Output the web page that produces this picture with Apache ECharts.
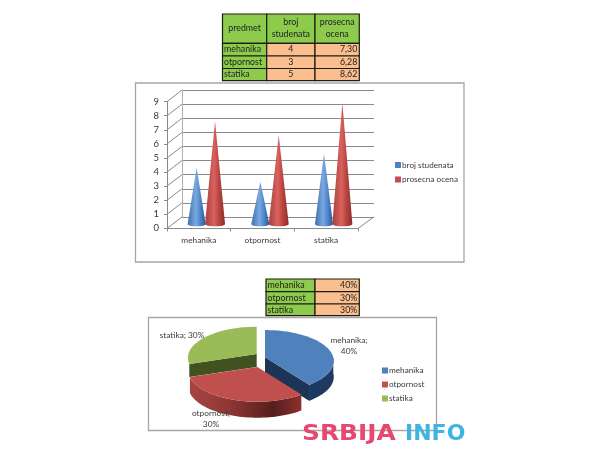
<!DOCTYPE html>
<html>
<head>
<meta charset="utf-8">
<style>html,body{margin:0;padding:0;background:#fff}#c{width:600px;height:450px}</style>
<script src="https://cdn.jsdelivr.net/npm/echarts@6/dist/echarts.min.js"></script>
</head>
<body>
<div id="c"></div>
<script>
const subjects = ['mehanika', 'otpornost', 'statika'];
const studentCounts = [4, 3, 5];
const averageGrades = [7.30, 6.28, 8.62];
const averageGradeLabels = ['7,30', '6,28', '8,62'];
const sharePercent = [40, 30, 30];
const yTicks = [0, 1, 2, 3, 4, 5, 6, 7, 8, 9];
const tableHeader = ['predmet', 'broj\nstudenata', 'prosecna\nocena'];

const font = 'Lato';
const textColor = '#3a3a3a';
const G = echarts.graphic;
const chart = echarts.init(document.getElementById('c'), null, {renderer: 'canvas'});

/* ---- tables ---- */
const tableGreen = '#8ccb4c', tableOrange = '#fbbf8f';
function cell(x0, y0, x1, y1, fill) {
  return {type: 'rect', z: 5, shape: {x: x0, y: y0, width: x1 - x0, height: y1 - y0},
    style: {fill: fill, stroke: '#1c1c10', lineWidth: 1.2}};
}
function cellText(x, y, text, align, size) {
  return {type: 'text', z: 6, style: {x: x, y: y, text: text, align: align, verticalAlign: 'middle',
    font: (size || 8.8) + 'px "' + font + '"', fill: '#222', lineHeight: 12}};
}
const gfx = [];
gfx.push({type: 'rect', z: -1, shape: {x: 135.5, y: 83, width: 328.5, height: 179}, style: {fill: '#fff', stroke: '#a6a6a6', lineWidth: 1.3}});
gfx.push({type: 'rect', z: -1, shape: {x: 148.5, y: 317.5, width: 288, height: 113}, style: {fill: '#fff', stroke: '#a6a6a6', lineWidth: 1.3}});

const tx = [222.5, 266.7, 315, 359.3], ty = [14, 43.3, 56, 68.5, 80.7];
tableHeader.forEach((h, c) => {
  gfx.push(cell(tx[c], ty[0], tx[c + 1], ty[1], tableGreen));
  gfx.push(cellText((tx[c] + tx[c + 1]) / 2, (ty[0] + ty[1]) / 2, h, 'center'));
});
subjects.forEach((s, r) => {
  gfx.push(cell(tx[0], ty[r + 1], tx[1], ty[r + 2], tableGreen));
  gfx.push(cellText(tx[0] + 1.5, (ty[r + 1] + ty[r + 2]) / 2, s, 'left'));
  gfx.push(cell(tx[1], ty[r + 1], tx[2], ty[r + 2], tableOrange));
  gfx.push(cellText((tx[1] + tx[2]) / 2, (ty[r + 1] + ty[r + 2]) / 2, String(studentCounts[r]), 'center'));
  gfx.push(cell(tx[2], ty[r + 1], tx[3], ty[r + 2], tableOrange));
  gfx.push(cellText(tx[3] - 2, (ty[r + 1] + ty[r + 2]) / 2, averageGradeLabels[r], 'right'));
});
const px = [266, 315, 359.3], py = [279, 291.7, 304, 315.7];
subjects.forEach((s, r) => {
  gfx.push(cell(px[0], py[r], px[1], py[r + 1], tableGreen));
  gfx.push(cellText(px[0] + 1.5, (py[r] + py[r + 1]) / 2, s, 'left'));
  gfx.push(cell(px[1], py[r], px[2], py[r + 1], tableOrange));
  gfx.push(cellText(px[2] - 2, (py[r] + py[r + 1]) / 2, sharePercent[r] + '%', 'right'));
});
/* watermark */
gfx.push({type: 'text', z: 50, x: 302, y: 434.5, scaleX: 1.13, style: {x: 0, y: 0, text: 'SRBIJA', align: 'left', verticalAlign: 'middle', font: 'bold 22px "DejaVu Sans"', fill: '#e8486f'}});
gfx.push({type: 'text', z: 50, x: 405, y: 434.5, style: {x: 0, y: 0, text: 'INFO', align: 'left', verticalAlign: 'middle', font: 'bold 22px "DejaVu Sans"', fill: '#3fb4e2'}});

/* ---- cones ---- */
function coneRender(shiftX, halfW, stops) {
  return function (params, api) {
    const apex = api.coord([api.value(0), api.value(1)]);
    const base = api.coord([api.value(0), 0]);
    const cx = apex[0] + shiftX, by = base[1] - 4.3, ry = 2.2;
    const pts = [[cx, apex[1] - 4.3]];
    for (let i = 0; i <= 20; i++) {
      const a = Math.PI * i / 20;
      pts.push([cx + halfW * Math.cos(a), by + ry * Math.sin(a)]);
    }
    return {type: 'polygon', shape: {points: pts},
      style: {fill: new G.LinearGradient(0, 0, 1, 0, stops)}};
  };
}
const blueStops = [{offset: 0, color: '#3f6ea8'}, {offset: .45, color: '#7aa9e2'}, {offset: .7, color: '#4f86cc'}, {offset: 1, color: '#2c578f'}];
const redStops = [{offset: 0, color: '#a8403e'}, {offset: .45, color: '#d8625f'}, {offset: .7, color: '#b9443f'}, {offset: 1, color: '#8a2d2b'}];

/* ---- wall connectors ---- */
function wallRender(params, api) {
  const p = api.coord([0, api.value(0)]);
  const left = p[0] - (api.size([1, 0])[0]) / 2;
  return {type: 'line', shape: {x1: left, y1: p[1], x2: left + 15, y2: p[1] - 11.5},
    style: {stroke: '#8a8a8a', lineWidth: 1}, silent: true};
}
function floorRender(params, api) {
  const p = api.coord([2, 0]);
  const right = p[0] + api.size([1, 0])[0] / 2;
  return {type: 'polyline', shape: {points: [[right, p[1]], [right + 16, p[1] - 11.5]]},
    style: {stroke: '#8a8a8a', lineWidth: 1, fill: 'none'}, silent: true};
}

/* ---- exploded 3D pie ---- */
const pieColors = ['#4f81bd', '#c0504d', '#9bbb59'];
const pieCentres = [[265, 357.3], [257.3, 367], [256.7, 354]];
const pieLabelAt = [[349, 346], [211, 419], [182, 335]];
const pieLabelFmt = [';\n', ';\n', '; '];
const RX = 68.3, RY = 31, PERSP = 0.12, DEPTH = 16;
const total = sharePercent.reduce((a, b) => a + b, 0);
function project(c, theta, dy) {
  const u = Math.sin(theta), v = -Math.cos(theta), s = 1 + PERSP * v;
  return [c[0] + RX * u * s, c[1] + RY * v * s + (dy || 0)];
}
function arc(c, a0, a1, dy) {
  const pts = [], n = 48;
  for (let i = 0; i <= n; i++) pts.push(project(c, a0 + (a1 - a0) * i / n, dy));
  return pts;
}
function pieRender(i) {
  return function (params, api) {
    const value = api.value(0);
    let before = 0;
    for (let k = 0; k < i; k++) before += sharePercent[k];
    const a0 = before / total * 2 * Math.PI, a1 = a0 + value / total * 2 * Math.PI;
    const c = pieCentres[i], kids = [];
    if (i === 0) {
      const wallA = Math.PI / 2;
      kids.push({type: 'polygon', shape: {points: arc(c, wallA, a1, 0).concat(arc(c, a1, wallA, DEPTH))}, style: {fill: '#1f3a60'}});
      const e = project(c, a1);
      kids.push({type: 'polygon', shape: {points: [c, e, [e[0], e[1] + DEPTH], [c[0], c[1] + DEPTH]]}, style: {fill: '#1c3557'}});
    } else if (i === 1) {
      kids.push({type: 'polygon', shape: {points: arc(c, a0, a1, 0).concat(arc(c, a1, a0, DEPTH))},
        style: {fill: new G.LinearGradient(0, 0, 1, 0, [
          {offset: 0, color: '#a84543'}, {offset: .35, color: '#8e3735'}, {offset: .75, color: '#561e1d'}, {offset: 1, color: '#8e2f2e'}])}});
    } else {
      const e = project(c, a0);
      kids.push({type: 'polygon', shape: {points: [c, e, [e[0], e[1] + DEPTH - 3], [c[0], c[1] + DEPTH - 3]]}, style: {fill: '#3f5220'}});
    }
    kids.push({type: 'polygon', shape: {points: [c].concat(arc(c, a0, a1, 0))}, style: {fill: pieColors[i]}});
    return {type: 'group', children: kids};
  };
}

const series = [
  {type: 'custom', name: 'wall', xAxisIndex: 0, yAxisIndex: 0, silent: true, z: 1, clip: false,
    data: yTicks.map(v => [v]), encode: {y: 0}, renderItem: wallRender},
  {type: 'custom', name: 'floor', xAxisIndex: 0, yAxisIndex: 0, silent: true, z: 1, clip: false,
    data: [[0]], renderItem: floorRender},
  {type: 'custom', name: 'broj studenata', xAxisIndex: 0, yAxisIndex: 0, z: 3, clip: false,
    itemStyle: {color: '#4f81bd'}, encode: {x: 0, y: 1},
    data: studentCounts.map((v, i) => [i, v]), renderItem: coneRender(-2.2, 9, blueStops)},
  {type: 'custom', name: 'prosecna ocena', xAxisIndex: 0, yAxisIndex: 0, z: 3, clip: false,
    itemStyle: {color: '#c0504d'}, encode: {x: 0, y: 1},
    data: averageGrades.map((v, i) => [i, v]), renderItem: coneRender(16.2, 10, redStops)}
];
/* green first, so that the red slice overlaps its cut face */
[2, 0, 1].forEach(i => {
  series.push({type: 'custom', name: subjects[i], coordinateSystem: 'none', z: 3 + (i === 2 ? 0 : 1),
    itemStyle: {color: pieColors[i]}, data: [[sharePercent[i]]], renderItem: pieRender(i)});
});
subjects.forEach((s, i) => {
  gfx.push({type: 'text', z: 20, style: {x: pieLabelAt[i][0], y: pieLabelAt[i][1],
    text: s + pieLabelFmt[i] + sharePercent[i] + '%', align: 'center', verticalAlign: 'middle',
    font: '8.3px "' + font + '"', fill: textColor, lineHeight: 11}});
});

chart.setOption({
  animation: false,
  backgroundColor: '#fff',
  textStyle: {fontFamily: font},
  graphic: {elements: gfx},
  legend: [
    {data: ['broj studenata', 'prosecna ocena'], orient: 'vertical', left: 390, top: 156, itemWidth: 6, itemHeight: 6, itemGap: 6.5,
      icon: 'rect', selectedMode: false, textStyle: {fontSize: 8.2, color: textColor, padding: [0, 0, 0, -4], fontFamily: font}},
    {data: subjects, orient: 'vertical', left: 377, top: 361.5, itemWidth: 6, itemHeight: 6, itemGap: 6,
      icon: 'rect', selectedMode: false, textStyle: {fontSize: 8.2, color: textColor, padding: [0, 0, 0, -4], fontFamily: font}}
  ],
  grid: [
    {left: 167, right: 242, top: 101.6, bottom: 221.6, z: 2},
    {left: 182, right: 226, top: 90, bottom: 233, z: 1}
  ],
  xAxis: [
    {type: 'category', gridIndex: 0, data: subjects, z: 2,
      axisLine: {show: true, lineStyle: {color: '#8a8a8a'}},
      axisTick: {show: true, length: 3, lineStyle: {color: '#8a8a8a'}},
      axisLabel: {color: textColor, fontSize: 8.3, margin: 8, fontFamily: font}},
    {type: 'value', gridIndex: 1, min: 0, max: 1, show: false}
  ],
  yAxis: [
    {type: 'value', gridIndex: 0, min: 0, max: 9, interval: 1, z: 2,
      axisLine: {show: true, lineStyle: {color: '#8a8a8a'}},
      axisTick: {show: true, length: 3, lineStyle: {color: '#8a8a8a'}},
      axisLabel: {color: textColor, fontSize: 9.5, margin: 8, fontFamily: font},
      splitLine: {show: false}},
    {type: 'value', gridIndex: 1, min: 0, max: 9, interval: 1, z: 1,
      axisLine: {show: true, lineStyle: {color: '#b0b0b0'}}, axisTick: {show: false}, axisLabel: {show: false},
      splitLine: {show: true, lineStyle: {color: '#8a8a8a', width: 1}}}
  ],
  series: series
});
</script>
</body>
</html>
